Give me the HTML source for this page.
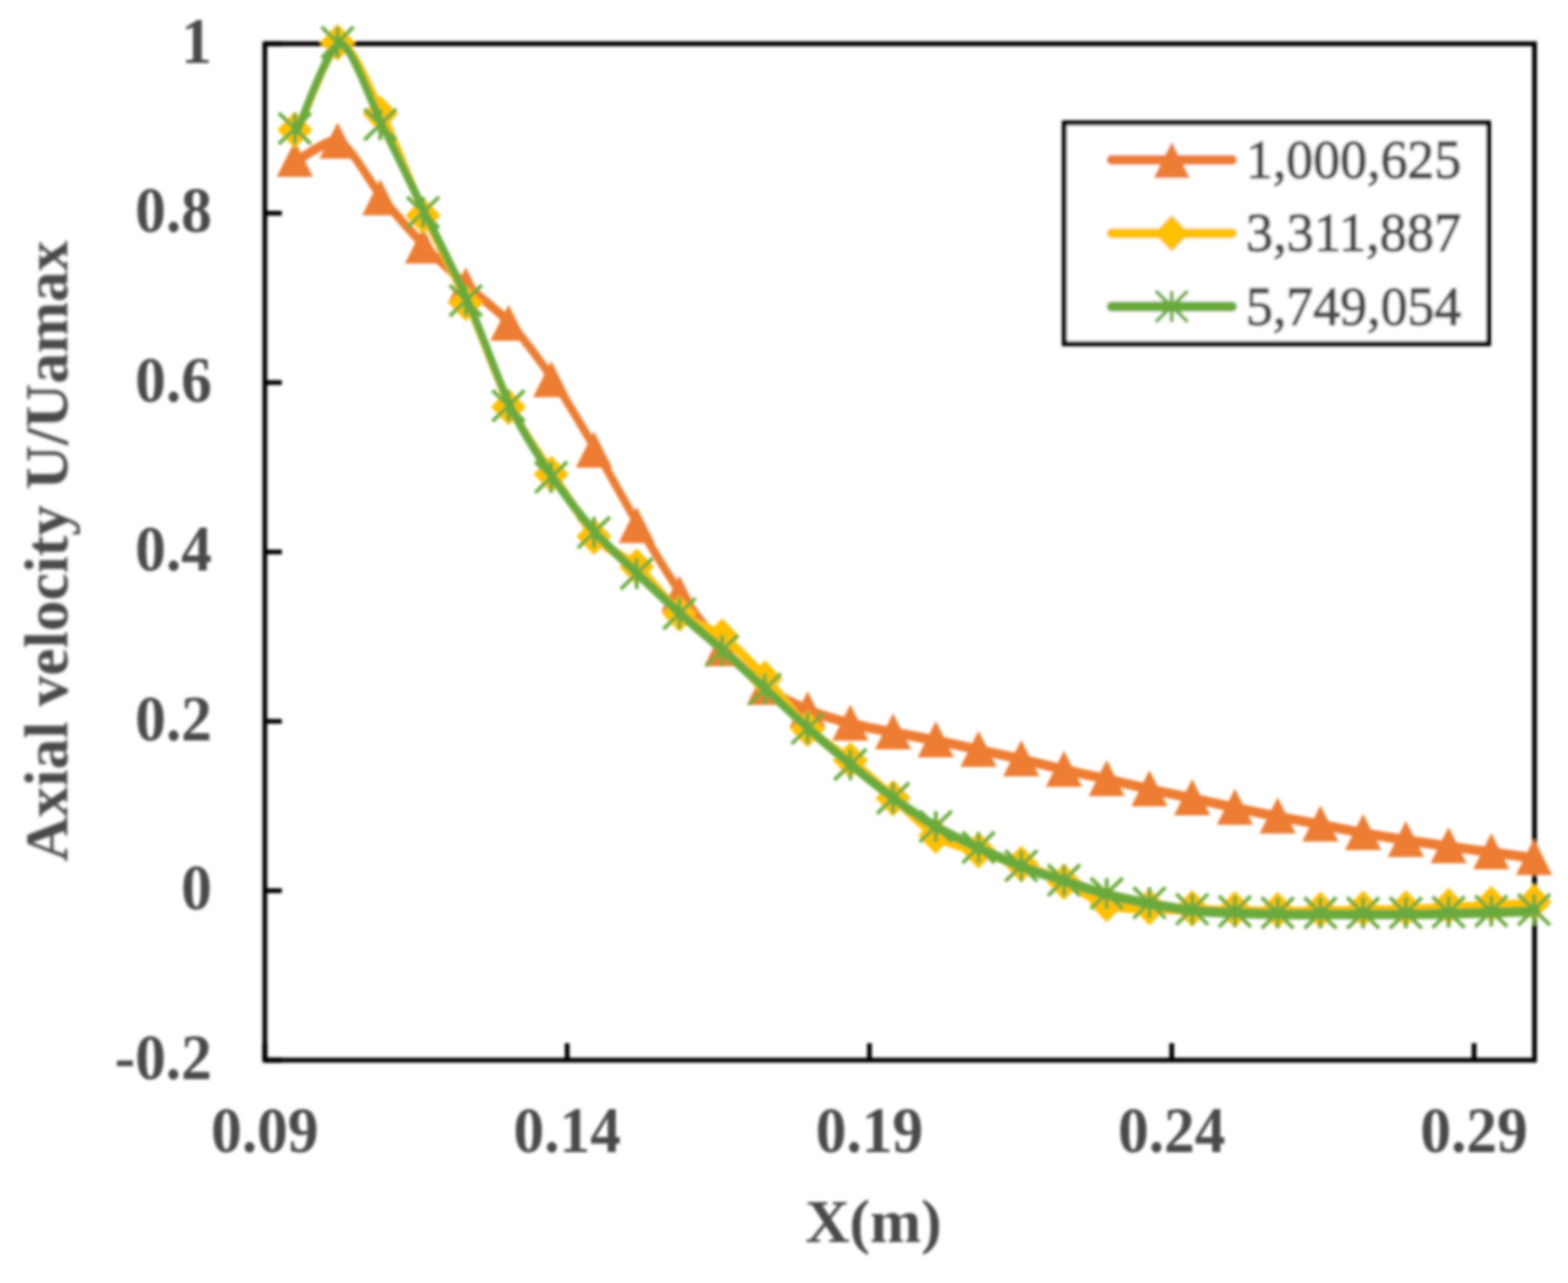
<!DOCTYPE html>
<html lang="en"><head><meta charset="utf-8"><title>Axial velocity chart</title>
<style>html,body{margin:0;padding:0;background:#fff}body{width:1569px;height:1284px;overflow:hidden}svg{display:block}text{font-family:"Liberation Serif",serif;fill:#4a4a4a}.b{font-weight:bold}</style></head><body>
<svg width="1569" height="1284" viewBox="0 0 1569 1284">
<defs><filter id="bl" x="-5%" y="-5%" width="110%" height="110%"><feGaussianBlur stdDeviation="1.5"/></filter></defs>
<rect width="1569" height="1284" fill="#fff"/>
<g filter="url(#bl)">
<rect x="265.00" y="43.80" width="1270.50" height="1017.20" fill="none" stroke="#000" stroke-width="4.80"/>
<path d="M265.00 43.80h17M265.00 213.33h17M265.00 382.87h17M265.00 552.40h17M265.00 721.93h17M265.00 891.47h17M265.00 1061.00h17M265.00 1061.00v-17M567.50 1061.00v-17M870.00 1061.00v-17M1172.50 1061.00v-17M1475.00 1061.00v-17" stroke="#000" stroke-width="4.80" fill="none"/>
<g transform="scale(1 1.360)"><path d="M297.50 118.01 C303.20 116.21 328.86 100.73 340.26 104.49 C351.66 108.24 371.62 135.88 383.02 146.18 C394.42 156.47 414.38 173.03 425.78 181.69 C437.18 190.35 457.14 203.51 468.54 211.10 C479.94 218.69 499.90 229.41 511.30 238.60 C522.70 247.80 542.66 267.64 554.06 280.07 C565.46 292.50 585.42 317.53 596.82 331.84 C608.22 346.14 628.18 373.22 639.58 387.35 C650.98 401.49 670.94 425.78 682.34 437.87 C693.74 449.96 713.70 468.85 725.10 478.01 C736.50 487.18 756.46 500.62 767.86 506.62 C779.26 512.62 799.22 519.51 810.62 523.01 C822.02 526.51 841.98 530.69 853.38 532.87 C864.78 535.04 884.74 537.70 896.14 539.34 C907.54 540.98 927.50 543.44 938.90 545.15 C950.30 546.85 970.26 550.28 981.66 552.13 C993.06 553.99 1013.02 557.08 1024.42 559.04 C1035.82 561.00 1055.78 564.89 1067.18 566.84 C1078.58 568.79 1098.54 571.76 1109.94 573.68 C1121.34 575.59 1141.30 579.30 1152.70 581.18 C1164.10 583.05 1184.06 585.91 1195.46 587.72 C1206.86 589.53 1226.82 592.99 1238.22 594.78 C1249.62 596.57 1269.58 599.53 1280.98 601.18 C1292.38 602.82 1312.34 605.51 1323.74 607.13 C1335.14 608.75 1355.10 611.80 1366.50 613.31 C1377.90 614.82 1397.86 617.15 1409.26 618.46 C1420.66 619.76 1440.62 621.89 1452.02 623.09 C1463.42 624.28 1483.38 626.28 1494.78 627.43 C1506.18 628.57 1531.84 631.12 1537.54 631.69" fill="none" stroke="#ED7D31" stroke-width="7.30" stroke-linecap="round" stroke-linejoin="round"/></g><g fill="#ED7D31"><path d="M295.00 140.90L313.10 177.10L276.90 177.10Z"/><path d="M337.76 122.50L355.86 158.70L319.66 158.70Z"/><path d="M380.52 179.20L398.62 215.40L362.42 215.40Z"/><path d="M423.28 227.50L441.38 263.70L405.18 263.70Z"/><path d="M466.04 267.50L484.14 303.70L447.94 303.70Z"/><path d="M508.80 304.90L526.90 341.10L490.70 341.10Z"/><path d="M551.56 361.30L569.66 397.50L533.46 397.50Z"/><path d="M594.32 431.70L612.42 467.90L576.22 467.90Z"/><path d="M637.08 507.20L655.18 543.40L618.98 543.40Z"/><path d="M679.84 575.90L697.94 612.10L661.74 612.10Z"/><path d="M722.60 630.50L740.70 666.70L704.50 666.70Z"/><path d="M765.36 669.40L783.46 705.60L747.26 705.60Z"/><path d="M808.12 691.70L826.22 727.90L790.02 727.90Z"/><path d="M850.88 705.10L868.98 741.30L832.78 741.30Z"/><path d="M893.64 713.90L911.74 750.10L875.54 750.10Z"/><path d="M936.40 721.80L954.50 758.00L918.30 758.00Z"/><path d="M979.16 731.30L997.26 767.50L961.06 767.50Z"/><path d="M1021.92 740.70L1040.02 776.90L1003.82 776.90Z"/><path d="M1064.68 751.30L1082.78 787.50L1046.58 787.50Z"/><path d="M1107.44 760.60L1125.54 796.80L1089.34 796.80Z"/><path d="M1150.20 770.80L1168.30 807.00L1132.10 807.00Z"/><path d="M1192.96 779.70L1211.06 815.90L1174.86 815.90Z"/><path d="M1235.72 789.30L1253.82 825.50L1217.62 825.50Z"/><path d="M1278.48 798.00L1296.58 834.20L1260.38 834.20Z"/><path d="M1321.24 806.10L1339.34 842.30L1303.14 842.30Z"/><path d="M1364.00 814.50L1382.10 850.70L1345.90 850.70Z"/><path d="M1406.76 821.50L1424.86 857.70L1388.66 857.70Z"/><path d="M1449.52 827.80L1467.62 864.00L1431.42 864.00Z"/><path d="M1492.28 833.70L1510.38 869.90L1474.18 869.90Z"/><path d="M1535.04 839.50L1553.14 875.70L1516.94 875.70Z"/></g>
<g transform="scale(1 1.360)"><path d="M297.50 96.76 C303.20 88.17 328.86 33.86 340.26 32.28 C351.66 30.70 371.62 67.94 383.02 84.93 C394.42 101.92 414.38 141.18 425.78 159.71 C437.18 178.24 457.14 205.12 468.54 223.90 C479.94 242.67 499.90 283.70 511.30 300.51 C522.70 317.33 542.66 337.27 554.06 350.00 C565.46 362.73 585.42 386.86 596.82 395.96 C608.22 405.05 628.18 410.69 639.58 418.24 C650.98 425.78 670.94 445.72 682.34 452.57 C693.74 459.43 713.70 463.23 725.10 469.63 C736.50 476.03 756.46 491.53 767.86 500.59 C779.26 509.65 799.22 529.56 810.62 537.57 C822.02 545.58 841.98 553.88 853.38 560.66 C864.78 567.45 884.74 581.08 896.14 588.46 C907.54 595.83 927.50 610.84 938.90 615.96 C950.30 621.07 970.26 624.03 981.66 626.84 C993.06 629.64 1013.02 633.90 1024.42 636.99 C1035.82 640.07 1055.78 646.10 1067.18 650.00 C1078.58 653.90 1098.54 663.77 1109.94 666.25 C1121.34 668.73 1141.30 668.14 1152.70 668.60 C1164.10 669.06 1184.06 669.46 1195.46 669.71 C1206.86 669.95 1226.82 670.27 1238.22 670.44 C1249.62 670.61 1269.58 670.91 1280.98 670.96 C1292.38 671.00 1312.34 670.94 1323.74 670.81 C1335.14 670.68 1355.10 670.16 1366.50 670.00 C1377.90 669.84 1397.86 669.89 1409.26 669.63 C1420.66 669.38 1440.62 668.50 1452.02 668.09 C1463.42 667.68 1483.38 666.96 1494.78 666.54 C1506.18 666.13 1531.84 665.21 1537.54 665.00" fill="none" stroke="#FFC000" stroke-width="7.30" stroke-linecap="round" stroke-linejoin="round"/></g><g fill="#FFC000"><path d="M295.00 111.60L312.50 130.10L295.00 148.60L277.50 130.10Z"/><path d="M337.76 23.90L355.26 42.40L337.76 60.90L320.26 42.40Z"/><path d="M380.52 95.50L398.02 114.00L380.52 132.50L363.02 114.00Z"/><path d="M423.28 197.20L440.78 215.70L423.28 234.20L405.78 215.70Z"/><path d="M466.04 284.50L483.54 303.00L466.04 321.50L448.54 303.00Z"/><path d="M508.80 388.70L526.30 407.20L508.80 425.70L491.30 407.20Z"/><path d="M551.56 456.00L569.06 474.50L551.56 493.00L534.06 474.50Z"/><path d="M594.32 518.50L611.82 537.00L594.32 555.50L576.82 537.00Z"/><path d="M637.08 548.80L654.58 567.30L637.08 585.80L619.58 567.30Z"/><path d="M679.84 595.50L697.34 614.00L679.84 632.50L662.34 614.00Z"/><path d="M722.60 618.70L740.10 637.20L722.60 655.70L705.10 637.20Z"/><path d="M765.36 660.80L782.86 679.30L765.36 697.80L747.86 679.30Z"/><path d="M808.12 711.10L825.62 729.60L808.12 748.10L790.62 729.60Z"/><path d="M850.88 742.50L868.38 761.00L850.88 779.50L833.38 761.00Z"/><path d="M893.64 780.30L911.14 798.80L893.64 817.30L876.14 798.80Z"/><path d="M936.40 817.70L953.90 836.20L936.40 854.70L918.90 836.20Z"/><path d="M979.16 832.50L996.66 851.00L979.16 869.50L961.66 851.00Z"/><path d="M1021.92 846.30L1039.42 864.80L1021.92 883.30L1004.42 864.80Z"/><path d="M1064.68 864.00L1082.18 882.50L1064.68 901.00L1047.18 882.50Z"/><path d="M1107.44 886.10L1124.94 904.60L1107.44 923.10L1089.94 904.60Z"/><path d="M1150.20 889.30L1167.70 907.80L1150.20 926.30L1132.70 907.80Z"/><path d="M1192.96 890.80L1210.46 909.30L1192.96 927.80L1175.46 909.30Z"/><path d="M1235.72 891.80L1253.22 910.30L1235.72 928.80L1218.22 910.30Z"/><path d="M1278.48 892.50L1295.98 911.00L1278.48 929.50L1260.98 911.00Z"/><path d="M1321.24 892.30L1338.74 910.80L1321.24 929.30L1303.74 910.80Z"/><path d="M1364.00 891.20L1381.50 909.70L1364.00 928.20L1346.50 909.70Z"/><path d="M1406.76 890.70L1424.26 909.20L1406.76 927.70L1389.26 909.20Z"/><path d="M1449.52 888.60L1467.02 907.10L1449.52 925.60L1432.02 907.10Z"/><path d="M1492.28 886.50L1509.78 905.00L1492.28 923.50L1474.78 905.00Z"/><path d="M1535.04 884.40L1552.54 902.90L1535.04 921.40L1517.54 902.90Z"/></g>
<g transform="scale(1 1.360)"><path d="M297.50 95.74 C303.20 87.27 328.86 32.67 340.26 32.28 C351.66 31.89 371.62 76.12 383.02 92.79 C394.42 109.47 414.38 140.09 425.78 157.35 C437.18 174.62 457.14 203.29 468.54 222.28 C479.94 241.27 499.90 282.44 511.30 299.78 C522.70 317.12 542.66 339.94 554.06 352.35 C565.46 364.76 585.42 383.42 596.82 392.87 C608.22 402.32 628.18 415.26 639.58 423.24 C650.98 431.21 670.94 445.12 682.34 452.65 C693.74 460.18 713.70 472.29 725.10 479.71 C736.50 487.12 756.46 500.58 767.86 508.24 C779.26 515.89 799.22 529.73 810.62 537.13 C822.02 544.53 841.98 556.91 853.38 563.75 C864.78 570.59 884.74 582.38 896.14 588.46 C907.54 594.53 927.50 604.50 938.90 609.34 C950.30 614.18 970.26 620.93 981.66 624.78 C993.06 628.63 1013.02 635.03 1024.42 638.24 C1035.82 641.44 1055.78 646.11 1067.18 648.82 C1078.58 651.54 1098.54 656.39 1109.94 658.60 C1121.34 660.82 1141.30 663.89 1152.70 665.44 C1164.10 666.99 1184.06 669.37 1195.46 670.22 C1206.86 671.07 1226.82 671.49 1238.22 671.84 C1249.62 672.19 1269.58 672.73 1280.98 672.87 C1292.38 673.00 1312.34 672.87 1323.74 672.87 C1335.14 672.87 1355.10 672.87 1366.50 672.87 C1377.90 672.87 1397.86 672.95 1409.26 672.87 C1420.66 672.79 1440.62 672.46 1452.02 672.28 C1463.42 672.10 1483.38 671.79 1494.78 671.54 C1506.18 671.30 1531.84 670.59 1537.54 670.44" fill="none" stroke="#6BAA3E" stroke-width="7.30" stroke-linecap="round" stroke-linejoin="round"/></g><g fill="none" stroke="#6BAA3E" stroke-width="3.8"><path d="M279.00 113.20L311.00 144.20M279.00 144.20L311.00 113.20M295.00 113.20L295.00 144.20"/><path d="M321.76 26.90L353.76 57.90M321.76 57.90L353.76 26.90M337.76 26.90L337.76 57.90"/><path d="M364.52 109.20L396.52 140.20M364.52 140.20L396.52 109.20M380.52 109.20L380.52 140.20"/><path d="M407.28 197.00L439.28 228.00M407.28 228.00L439.28 197.00M423.28 197.00L423.28 228.00"/><path d="M450.04 285.30L482.04 316.30M450.04 316.30L482.04 285.30M466.04 285.30L466.04 316.30"/><path d="M492.80 390.70L524.80 421.70M492.80 421.70L524.80 390.70M508.80 390.70L508.80 421.70"/><path d="M535.56 462.20L567.56 493.20M535.56 493.20L567.56 462.20M551.56 462.20L551.56 493.20"/><path d="M578.32 517.30L610.32 548.30M578.32 548.30L610.32 517.30M594.32 517.30L594.32 548.30"/><path d="M621.08 558.60L653.08 589.60M621.08 589.60L653.08 558.60M637.08 558.60L637.08 589.60"/><path d="M663.84 598.60L695.84 629.60M663.84 629.60L695.84 598.60M679.84 598.60L679.84 629.60"/><path d="M706.60 635.40L738.60 666.40M706.60 666.40L738.60 635.40M722.60 635.40L722.60 666.40"/><path d="M749.36 674.20L781.36 705.20M749.36 705.20L781.36 674.20M765.36 674.20L765.36 705.20"/><path d="M792.12 713.50L824.12 744.50M792.12 744.50L824.12 713.50M808.12 713.50L808.12 744.50"/><path d="M834.88 749.70L866.88 780.70M834.88 780.70L866.88 749.70M850.88 749.70L850.88 780.70"/><path d="M877.64 783.30L909.64 814.30M877.64 814.30L909.64 783.30M893.64 783.30L893.64 814.30"/><path d="M920.40 811.70L952.40 842.70M920.40 842.70L952.40 811.70M936.40 811.70L936.40 842.70"/><path d="M963.16 832.70L995.16 863.70M963.16 863.70L995.16 832.70M979.16 832.70L979.16 863.70"/><path d="M1005.92 851.00L1037.92 882.00M1005.92 882.00L1037.92 851.00M1021.92 851.00L1021.92 882.00"/><path d="M1048.68 865.40L1080.68 896.40M1048.68 896.40L1080.68 865.40M1064.68 865.40L1064.68 896.40"/><path d="M1091.44 878.70L1123.44 909.70M1091.44 909.70L1123.44 878.70M1107.44 878.70L1107.44 909.70"/><path d="M1134.20 888.00L1166.20 919.00M1134.20 919.00L1166.20 888.00M1150.20 888.00L1150.20 919.00"/><path d="M1176.96 894.50L1208.96 925.50M1176.96 925.50L1208.96 894.50M1192.96 894.50L1192.96 925.50"/><path d="M1219.72 896.70L1251.72 927.70M1219.72 927.70L1251.72 896.70M1235.72 896.70L1235.72 927.70"/><path d="M1262.48 898.10L1294.48 929.10M1262.48 929.10L1294.48 898.10M1278.48 898.10L1278.48 929.10"/><path d="M1305.24 898.10L1337.24 929.10M1305.24 929.10L1337.24 898.10M1321.24 898.10L1321.24 929.10"/><path d="M1348.00 898.10L1380.00 929.10M1348.00 929.10L1380.00 898.10M1364.00 898.10L1364.00 929.10"/><path d="M1390.76 898.10L1422.76 929.10M1390.76 929.10L1422.76 898.10M1406.76 898.10L1406.76 929.10"/><path d="M1433.52 897.30L1465.52 928.30M1433.52 928.30L1465.52 897.30M1449.52 897.30L1449.52 928.30"/><path d="M1476.28 896.30L1508.28 927.30M1476.28 927.30L1508.28 896.30M1492.28 896.30L1492.28 927.30"/><path d="M1519.04 894.80L1551.04 925.80M1519.04 925.80L1551.04 894.80M1535.04 894.80L1535.04 925.80"/></g>
<rect x="1065.00" y="123.00" width="424.50" height="221.00" fill="#fff" stroke="#000" stroke-width="5"/>
<path d="M1112.50 160.10H1232.80" stroke="#ED7D31" stroke-width="10.00" stroke-linecap="round" fill="none"/>
<g fill="#ED7D31"><path d="M1172.50 142.00L1190.60 178.20L1154.40 178.20Z"/></g>
<path d="M1112.50 233.40H1232.80" stroke="#FFC000" stroke-width="10.00" stroke-linecap="round" fill="none"/>
<g fill="#FFC000"><path d="M1172.50 214.90L1190.00 233.40L1172.50 251.90L1155.00 233.40Z"/></g>
<path d="M1112.50 306.70H1232.80" stroke="#6BAA3E" stroke-width="10.00" stroke-linecap="round" fill="none"/>
<g fill="none" stroke="#6BAA3E" stroke-width="3.8"><path d="M1156.50 291.20L1188.50 322.20M1156.50 322.20L1188.50 291.20M1172.50 291.20L1172.50 322.20"/></g>
<text x="1246.7" y="177.90" font-size="55.5" fill="#444" stroke="#444" stroke-width="1.3" stroke-linejoin="round" textLength="215.5" lengthAdjust="spacingAndGlyphs">1,000,625</text>
<text x="1246.7" y="251.20" font-size="55.5" fill="#444" stroke="#444" stroke-width="1.3" stroke-linejoin="round" textLength="215.5" lengthAdjust="spacingAndGlyphs">3,311,887</text>
<text x="1246.7" y="324.50" font-size="55.5" fill="#444" stroke="#444" stroke-width="1.3" stroke-linejoin="round" textLength="215.5" lengthAdjust="spacingAndGlyphs">5,749,054</text>
<text class="b" transform="translate(212 62.60) scale(1 1.06)" font-size="61.5" text-anchor="end">1</text>
<text class="b" transform="translate(212 232.13) scale(1 1.06)" font-size="61.5" text-anchor="end">0.8</text>
<text class="b" transform="translate(212 401.67) scale(1 1.06)" font-size="61.5" text-anchor="end">0.6</text>
<text class="b" transform="translate(212 571.20) scale(1 1.06)" font-size="61.5" text-anchor="end">0.4</text>
<text class="b" transform="translate(212 740.73) scale(1 1.06)" font-size="61.5" text-anchor="end">0.2</text>
<text class="b" transform="translate(212 910.27) scale(1 1.06)" font-size="61.5" text-anchor="end">0</text>
<text class="b" transform="translate(212 1079.80) scale(1 1.06)" font-size="61.5" text-anchor="end">-0.2</text>
<text class="b" transform="translate(265.00 1152.8) scale(1 1.06)" font-size="61.5" text-anchor="middle">0.09</text>
<text class="b" transform="translate(567.50 1152.8) scale(1 1.06)" font-size="61.5" text-anchor="middle">0.14</text>
<text class="b" transform="translate(870.00 1152.8) scale(1 1.06)" font-size="61.5" text-anchor="middle">0.19</text>
<text class="b" transform="translate(1172.50 1152.8) scale(1 1.06)" font-size="61.5" text-anchor="middle">0.24</text>
<text class="b" transform="translate(1475.00 1152.8) scale(1 1.06)" font-size="61.5" text-anchor="middle">0.29</text>
<text class="b" x="874" y="1243.2" font-size="61.5" text-anchor="middle">X(m)</text>
<text class="b" transform="translate(67.3 551.5) rotate(-90)" font-size="61.5" text-anchor="middle">Axial velocity U/Uamax</text>
</g></svg></body></html>
